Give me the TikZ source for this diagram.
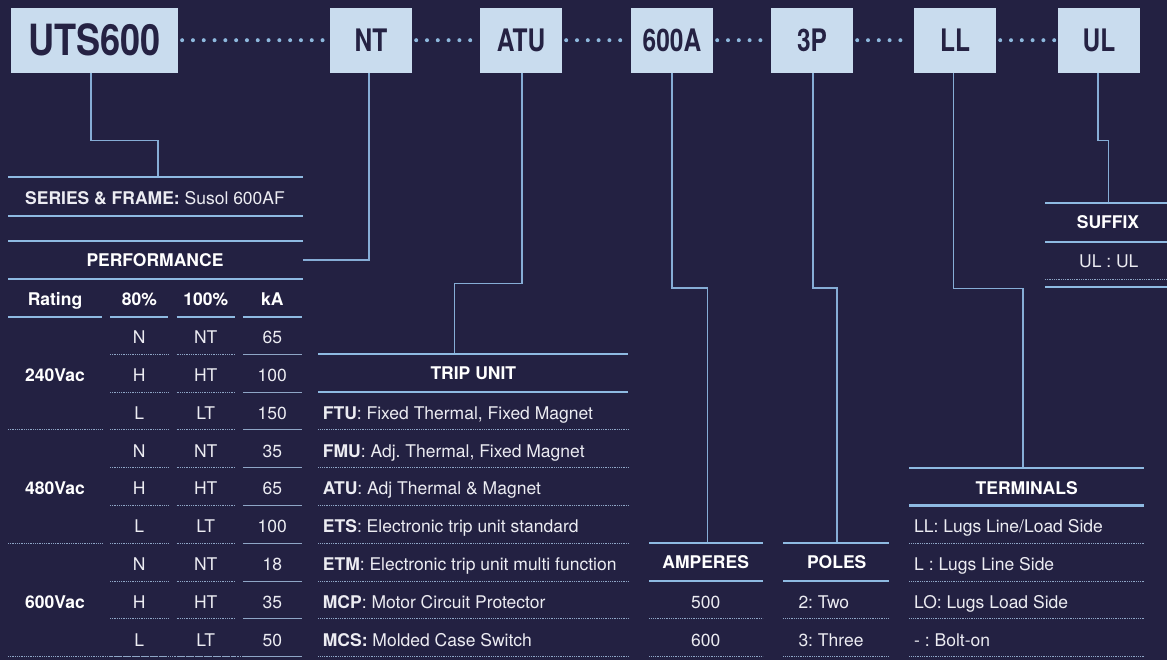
\documentclass[tikz,border=0pt]{standalone}
\usepackage{fontspec}
\setmainfont{TeX Gyre Heros}
\definecolor{bg}{HTML}{232142}
\definecolor{boxfill}{HTML}{C9DCEE}
\definecolor{boxtext}{HTML}{252243}
\definecolor{linec}{HTML}{8EBAE2}
\definecolor{connc}{HTML}{86ADD6}
\definecolor{dotc}{HTML}{8EB9DE}
\definecolor{sepc}{HTML}{8FA6C6}
\definecolor{cellc}{HTML}{ECECF2}
\newcommand\tabfont{\fontsize{17.5}{21}\selectfont\frenchspacing}
\tikzset{
  topbox/.style={fill=boxfill, minimum height=65pt, minimum width=82pt, inner sep=0pt,
    text=boxtext, font=\bfseries\fontsize{31}{31}\selectfont, text height=22.3pt, text depth=0pt},
  dots/.style={draw=dotc, line width=4pt, line cap=round, dash pattern=on 0pt off 10.8pt,
    shorten <=4pt, shorten >=3pt},
  conn/.style={draw=connc, line width=1.3pt},
  tline/.style={draw=linec, line width=2.3pt},
  sline/.style={draw=sepc, line width=0.9pt, dash pattern=on 1pt off 0.8pt},
  kline/.style={draw=sepc, line width=0.9pt},
  hdr/.style={font=\bfseries\tabfont, text=white, text height=12.6pt, text depth=0pt, inner sep=0pt},
  cell/.style={font=\tabfont, text=cellc, text height=12.6pt, text depth=0pt, inner sep=0pt},
  lcell/.style={cell, anchor=west},
}
\begin{document}
\begin{tikzpicture}[x=1pt,y=-1pt]
\fill[bg] (0,0) rectangle (1167,660);
\useasboundingbox (0,0) rectangle (1167,660);

% top code boxes
\node[topbox, minimum width=166.5pt, font=\bfseries\fontsize{43}{43}\selectfont, text height=30.9pt] (uts) at (94.7,40.2) {\scalebox{0.84}[1]{UTS600}};
\node[topbox] (nt)  at (371,40.2)  {\scalebox{0.79}[1]{NT}};
\node[topbox] (atu) at (521,40.2)  {\scalebox{0.79}[1]{ATU}};
\node[topbox] (amp) at (672,40.2)  {\scalebox{0.79}[1]{600A}};
\node[topbox] (pol) at (812,40.2)  {\scalebox{0.79}[1]{3P}};
\node[topbox] (ll)  at (955,40.2)  {\scalebox{0.79}[1]{LL}};
\node[topbox] (ul)  at (1099,40.2) {\scalebox{0.79}[1]{UL}};

\draw[dots] (uts.east) -- (nt.west);
\draw[dots] (nt.east) -- (atu.west);
\draw[dots] (atu.east) -- (amp.west);
\draw[dots] (amp.east) -- (pol.west);
\draw[dots] (pol.east) -- (ll.west);
\draw[dots] (ll.east) -- (ul.west);

% connector points
\coordinate (utsBend) at (91,140.7);   \coordinate (serTop)  at (158,177.3);
\coordinate (ntLeg)   at (369,260);    \coordinate (perfIn)  at (303,260);
\coordinate (atuBend) at (522,283.7);  \coordinate (tripTop) at (454.7,354.3);
\coordinate (ampBend) at (672,288);    \coordinate (ampTop)  at (707.5,542.7);
\coordinate (polBend) at (813,288);    \coordinate (polTop)  at (837,542.7);
\coordinate (llBend)  at (953.7,288.7);\coordinate (terTop)  at (1023,467.7);
\coordinate (ulBend)  at (1098,140.3); \coordinate (sufTop)  at (1108.7,203);

\draw[conn] (utsBend |- uts.south) -- (utsBend) -| (serTop);
\draw[conn] (ntLeg |- nt.south) -- (ntLeg) -- (perfIn);
\draw[conn] (atuBend |- atu.south) -- (atuBend) -| (tripTop);
\draw[conn] (ampBend |- amp.south) -- (ampBend) -| (ampTop);
\draw[conn] (polBend |- pol.south) -- (polBend) -| (polTop);
\draw[conn] (llBend |- ll.south) -- (llBend) -| (terTop);
\draw[conn] (ulBend |- ul.south) -- (ulBend) -| (sufTop);

% SERIES & FRAME
\draw[tline] (8,177.3) -- (303,177.3);
\node[cell] (series) at (155,198) {\textbf{SERIES \& FRAME:} Susol 600AF};
\draw[tline] (8,215.7) -- (303,215.7);

% PERFORMANCE
\draw[tline] (8,241) -- (303,241);
\node[hdr] (perf) at (155,260.3) {PERFORMANCE};
\draw[tline] (8,278.7) -- (303,278.7);
\node[hdr] (hRat) at (55,299.5)    {Rating};
\node[hdr] (h80)  at (139.3,299.5) {80\%};
\node[hdr] (h100) at (205.7,299.5) {100\%};
\node[hdr] (hkA)  at (272.3,299.5) {kA};
\draw[tline] (8,316.7) -- (102,316.7);
\draw[tline] (110,316.7) -- (168,316.7);
\draw[tline] (176.5,316.7) -- (235,316.7);
\draw[tline] (243,316.7) -- (302,316.7);

\foreach \a/\b/\c [count=\i from 0] in {N/NT/65, H/HT/100, L/LT/150, N/NT/35, H/HT/65, L/LT/100, N/NT/18, H/HT/35, L/LT/50}{
  \node[cell] (pa\i) at (139.3,{337.3+37.8*\i}) {\a};
  \node[cell] (pb\i) at (205.7,{337.3+37.8*\i}) {\b};
  \node[cell] (pc\i) at (272.3,{337.3+37.8*\i}) {\c};
  \draw[sline] (110,{354.3+37.8*\i}) -- (168,{354.3+37.8*\i});
  \draw[sline] (176.5,{354.3+37.8*\i}) -- (235,{354.3+37.8*\i});
  \draw[kline] (243,{354.3+37.8*\i}) -- (302,{354.3+37.8*\i});
}
\node[hdr] (v240) at (55,375.1) {240Vac};
\node[hdr] (v480) at (55,488.5) {480Vac};
\node[hdr] (v600) at (55,601.9) {600Vac};
\draw[sline] (8,429.9) -- (102,429.9);
\draw[sline] (8,543.3) -- (102,543.3);
\draw[sline] (8,656.7) -- (302,656.7);

% TRIP UNIT
\draw[tline] (318.3,354.3) -- (628.3,354.3);
\node[hdr] (trip) at (473.3,373.5) {TRIP UNIT};
\draw[tline] (318.3,392.1) -- (628.3,392.1);
\foreach \t [count=\i from 2] in {{\textbf{FTU}: Fixed Thermal, Fixed Magnet},
  {\textbf{FMU}: Adj. Thermal, Fixed Magnet},
  {\textbf{ATU}: Adj Thermal \& Magnet},
  {\textbf{ETS}: Electronic trip unit standard},
  {\textbf{ETM}: Electronic trip unit multi function},
  {\textbf{MCP}: Motor Circuit Protector},
  {\textbf{MCS:} Molded Case Switch}}{
  \node[lcell] (tu\i) at (322.7,{337.3+37.8*\i}) {\t};
  \draw[sline] (318.3,{354.3+37.8*\i}) -- (628.3,{354.3+37.8*\i});
}

% AMPERES
\draw[tline] (649.3,542.7) -- (762.7,542.7);
\node[hdr] (ampH) at (705.7,562) {AMPERES};
\draw[tline] (649.3,581) -- (762.7,581);
\node[cell] (a500) at (705.7,601.9) {500};
\node[cell] (a600) at (705.7,639.7) {600};
\draw[sline] (649.3,618.9) -- (762.7,618.9);
\draw[sline] (649.3,656.7) -- (762.7,656.7);

% POLES
\draw[tline] (783.3,542.7) -- (889.3,542.7);
\node[hdr] (polH) at (836.7,562) {POLES};
\draw[tline] (783.3,581) -- (889.3,581);
\node[lcell] (p2) at (798.3,601.9) {2: Two};
\node[lcell] (p3) at (798.3,639.7) {3: Three};
\draw[sline] (783.3,618.9) -- (889.3,618.9);
\draw[sline] (783.3,656.7) -- (889.3,656.7);

% TERMINALS
\draw[tline] (909.3,467.7) -- (1144.3,467.7);
\node[hdr] (terH) at (1026.7,488) {TERMINALS};
\draw[tline] (909.3,505.5) -- (1144.3,505.5);
\foreach \t [count=\i from 5] in {{LL: Lugs Line/Load Side},{L : Lugs Line Side},{LO: Lugs Load Side},{- : Bolt-on}}{
  \node[lcell] (te\i) at (914,{337.3+37.8*\i}) {\t};
  \draw[sline] (909.3,{354.3+37.8*\i}) -- (1144.3,{354.3+37.8*\i});
}

% SUFFIX
\draw[tline] (1045,203) -- (1167,203);
\node[hdr] (sufH) at (1108,222.5) {SUFFIX};
\draw[tline] (1045,241.7) -- (1167,241.7);
\node[cell] (suf1) at (1108.8,261.5) {UL : UL};
\draw[sline] (1045,279) -- (1167,279);
\draw[tline] (1045,286.7) -- (1167,286.7);
\end{tikzpicture}
\end{document}
